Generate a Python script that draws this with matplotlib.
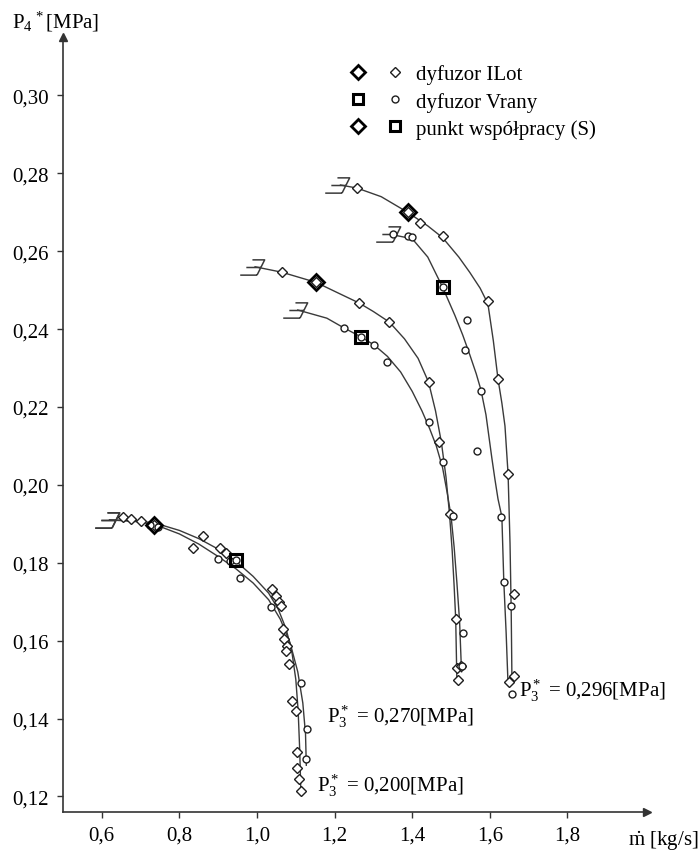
import matplotlib
matplotlib.use('Agg')
import matplotlib.pyplot as plt
from matplotlib.path import Path
from matplotlib.ticker import FixedLocator, FuncFormatter
from matplotlib.legend_handler import HandlerTuple
from matplotlib.lines import Line2D

# --- data --------------------------------------------------------------------

# lines: dyfuzor ILot / Vrany for the three inlet pressures
ilot_200_x = [0.62, 0.70, 0.75, 0.80, 0.85, 0.90, 0.95, 0.99, 1.03, 1.055, 1.075,
              1.09, 1.10, 1.106, 1.11, 1.113]
ilot_200_y = [0.1910, 0.1908, 0.1898, 0.1883, 0.1862, 0.1835, 0.1800, 0.1765, 0.1722,
              0.1680, 0.1630, 0.157, 0.150, 0.142, 0.132, 0.121]
vrany_200_x = [0.62, 0.70, 0.75, 0.80, 0.85, 0.90, 0.945, 0.99, 1.03, 1.06, 1.085,
               1.105, 1.118, 1.125, 1.127]
vrany_200_y = [0.1910, 0.1905, 0.1893, 0.1874, 0.1848, 0.1816, 0.1785, 0.1748, 0.1705,
               0.1655, 0.1595, 0.152, 0.144, 0.136, 0.128]

ilot_270_x = [0.995, 1.064, 1.152, 1.20, 1.263, 1.30, 1.341, 1.38, 1.415, 1.442, 1.46,
              1.475, 1.487, 1.496, 1.503, 1.508, 1.512, 1.515]
ilot_270_y = [0.2560, 0.2546, 0.2520, 0.2497, 0.2467, 0.2445, 0.2418, 0.2375, 0.2325,
              0.2264, 0.219, 0.211, 0.202, 0.1926, 0.183, 0.174, 0.1656, 0.150]
vrany_270_x = [1.105, 1.18, 1.224, 1.268, 1.302, 1.336, 1.37, 1.40, 1.425, 1.445, 1.462,
               1.478, 1.49, 1.50, 1.508, 1.515, 1.522, 1.527]
vrany_270_y = [0.2449, 0.2428, 0.2403, 0.2380, 0.2359, 0.2330, 0.229, 0.224, 0.219,
               0.2144, 0.210, 0.2045, 0.198, 0.192, 0.184, 0.175, 0.165, 0.152]

ilot_296_x = [1.215, 1.258, 1.32, 1.388, 1.44, 1.478, 1.52, 1.548, 1.575, 1.595, 1.609,
              1.621, 1.631, 1.639, 1.647, 1.652, 1.655, 1.657]
ilot_296_y = [0.2770, 0.2762, 0.2740, 0.2700, 0.2665, 0.2635, 0.2585, 0.2546, 0.2505,
              0.2465, 0.237, 0.2272, 0.221, 0.2151, 0.2028, 0.185, 0.168, 0.1495]
vrany_296_x = [1.345, 1.40, 1.44, 1.478, 1.51, 1.53, 1.548, 1.565, 1.577, 1.59, 1.605,
               1.613, 1.621, 1.631, 1.636, 1.642, 1.647]
vrany_296_y = [0.2643, 0.2632, 0.2585, 0.2508, 0.2435, 0.2385, 0.2335, 0.2285, 0.2244,
               0.218, 0.207, 0.2015, 0.1964, 0.1918, 0.1751, 0.162, 0.1485]

# measured points
ilot_pts_x = [0.655, 0.675, 0.70, 0.735, 0.835, 0.86, 0.905, 0.92, 1.038, 1.048, 1.056,
              1.061, 1.066, 1.069, 1.077, 1.074, 1.082, 1.090, 1.100, 1.103, 1.103,
              1.108, 1.113,
              1.064, 1.152, 1.263, 1.341, 1.442, 1.470, 1.498, 1.512, 1.515, 1.525, 1.517,
              1.258, 1.388, 1.419, 1.478, 1.595, 1.621, 1.647, 1.662, 1.649, 1.662]
ilot_pts_y = [0.1918, 0.1912, 0.1908, 0.1898, 0.1838, 0.1868, 0.1838, 0.1825, 0.1733,
              0.1715, 0.1700, 0.1690, 0.1630, 0.1605, 0.1587, 0.1574, 0.1540, 0.1446,
              0.1420, 0.1315, 0.1272, 0.1246, 0.1213,
              0.2546, 0.2520, 0.2467, 0.2418, 0.2264, 0.2110, 0.1925, 0.1656, 0.1530,
              0.1536, 0.1500,
              0.2762, 0.2700, 0.2672, 0.2638, 0.2472, 0.2272, 0.2027, 0.1720, 0.1495, 0.1508]

vrany_pts_x = [0.725, 0.745, 0.90, 0.93, 0.945, 0.957, 1.035, 1.113, 1.128, 1.126,
               1.224, 1.268, 1.302, 1.336, 1.442, 1.478, 1.505, 1.530, 1.527,
               1.350, 1.388, 1.400, 1.478, 1.540, 1.535, 1.577, 1.566, 1.628, 1.636,
               1.654, 1.657]
vrany_pts_y = [0.1898, 0.1893, 0.1810, 0.1805, 0.1808, 0.1760, 0.1687, 0.1490, 0.1374,
               0.1297,
               0.2403, 0.2380, 0.2359, 0.2315, 0.2162, 0.2059, 0.1920, 0.1620, 0.1535,
               0.2643, 0.2638, 0.2636, 0.2508, 0.2423, 0.2346, 0.2241, 0.2087, 0.1918,
               0.1751, 0.1690, 0.1464]

# operating points (punkt wspolpracy)
op_ilot_x = [0.735, 1.152, 1.388]
op_ilot_y = [0.1898, 0.2520, 0.2700]
op_vrany_x = [0.945, 1.268, 1.478]
op_vrany_y = [0.1808, 0.2380, 0.2508]

x_ticks = [0.6, 0.8, 1.0, 1.2, 1.4, 1.6, 1.8]
y_ticks = [0.12, 0.14, 0.16, 0.18, 0.20, 0.22, 0.24, 0.26, 0.28, 0.30]

# --- style -------------------------------------------------------------------

plt.rcParams['font.family'] = 'Liberation Serif'
plt.rcParams['mathtext.fontset'] = 'custom'
plt.rcParams['mathtext.rm'] = 'Liberation Serif'
plt.rcParams['mathtext.it'] = 'Liberation Serif:italic'

FS = 15
LINE_C = '#3a3a3a'
EDGE_C = '#1e1e1e'

# surge-limit hash mark
hash_verts = [(-0.2, 0.5), (0.6, 0.5), (0.1, -0.5),
              (-1.0, -0.5), (0.1, -0.5),
              (-0.6, 0.0), (0.35, 0.0)]
hash_codes = [Path.MOVETO, Path.LINETO, Path.LINETO,
              Path.MOVETO, Path.LINETO,
              Path.MOVETO, Path.LINETO]
hash_marker = Path(hash_verts, hash_codes)

fig = plt.figure(figsize=(6.99, 8.54), dpi=100)
ax = fig.add_axes([63 / 699, 41 / 854, 584 / 699, 775 / 854])

curves = [(ilot_200_x, ilot_200_y), (vrany_200_x, vrany_200_y),
          (ilot_270_x, ilot_270_y), (vrany_270_x, vrany_270_y),
          (ilot_296_x, ilot_296_y), (vrany_296_x, vrany_296_y)]
for cx, cy in curves:
    ax.plot(cx, cy, color=LINE_C, lw=1.0, zorder=2)
    ax.plot(cx[0], cy[0], marker=hash_marker, ms=22, mew=1.1,
            color=LINE_C, fillstyle='none', zorder=3)

ax.plot(ilot_pts_x, ilot_pts_y, ls='none', marker='D', ms=5.5, mfc='white',
        mec=EDGE_C, mew=1.0, zorder=4)
ax.plot(vrany_pts_x, vrany_pts_y, ls='none', marker='o', ms=5, mfc='white',
        mec=EDGE_C, mew=1.0, zorder=4)
ax.plot(op_ilot_x, op_ilot_y, ls='none', marker='D', ms=8, mfc='none',
        mec='black', mew=2.0, zorder=5)
ax.plot(op_vrany_x, op_vrany_y, ls='none', marker='s', ms=8, mfc='none',
        mec='black', mew=2.2, zorder=5)

ax.set_xlim(0.5, 2.005)
ax.set_ylim(0.116, 0.315)

for side in ['top', 'right']:
    ax.spines[side].set_visible(False)
for side in ['left', 'bottom']:
    ax.spines[side].set_linewidth(1.2)
    ax.spines[side].set_color('#333333')

ax.plot(1, 0, marker='>', ms=6, color='#333333', transform=ax.transAxes, clip_on=False)
ax.plot(0, 1, marker='^', ms=6, color='#333333', transform=ax.transAxes, clip_on=False)

ax.xaxis.set_major_locator(FixedLocator(x_ticks))
ax.yaxis.set_major_locator(FixedLocator(y_ticks))
ax.xaxis.set_major_formatter(FuncFormatter(lambda v, p: ('%.1f' % v).replace('.', ',')))
ax.yaxis.set_major_formatter(FuncFormatter(lambda v, p: ('%.2f' % v).replace('.', ',')))
ax.tick_params(direction='out', length=4, width=1.0, color='#333333',
               labelsize=FS, pad=6)

# axis titles
fig.text(12 / 699, 1 - 22 / 854, r'$\mathrm{P_4}^{\,*}$[MPa]', fontsize=FS,
         ha='left', va='center')
fig.text(1.0, 1 - 841 / 854, r'$\dot{\mathrm{m}}$ [kg/s]', fontsize=FS,
         ha='right', va='center')

# pressure labels
ax.text(1.675, 0.1475, r'$\mathrm{P_3^*}$ = 0,296[MPa]', fontsize=FS,
        ha='left', va='center')
ax.text(1.18, 0.1408, r'$\mathrm{P_3^*}$ = 0,270[MPa]', fontsize=FS,
        ha='left', va='center')
ax.text(1.155, 0.1230, r'$\mathrm{P_3^*}$ = 0,200[MPa]', fontsize=FS,
        ha='left', va='center')

# legend
big_d = Line2D([], [], ls='none', marker='D', ms=7, mfc='white', mec='black', mew=2.0)
big_s = Line2D([], [], ls='none', marker='s', ms=7, mfc='white', mec='black', mew=2.2)
sm_d = Line2D([], [], ls='none', marker='D', ms=5.5, mfc='white', mec=EDGE_C, mew=1.0)
sm_o = Line2D([], [], ls='none', marker='o', ms=5, mfc='white', mec=EDGE_C, mew=1.0)
ax.legend([(big_d, sm_d), (big_s, sm_o), (big_d, big_s)],
          ['dyfuzor ILot', 'dyfuzor Vrany', 'punkt współpracy (S)'],
          handler_map={tuple: HandlerTuple(ndivide=None, pad=1.2)},
          loc='upper left', bbox_to_anchor=(341 / 699, 1 - 55 / 854),
          bbox_transform=fig.transFigure, frameon=False, fontsize=FS,
          handlelength=2.4, handletextpad=0.7, borderpad=0, labelspacing=0.35)

fig.savefig('out.png', dpi=100)
